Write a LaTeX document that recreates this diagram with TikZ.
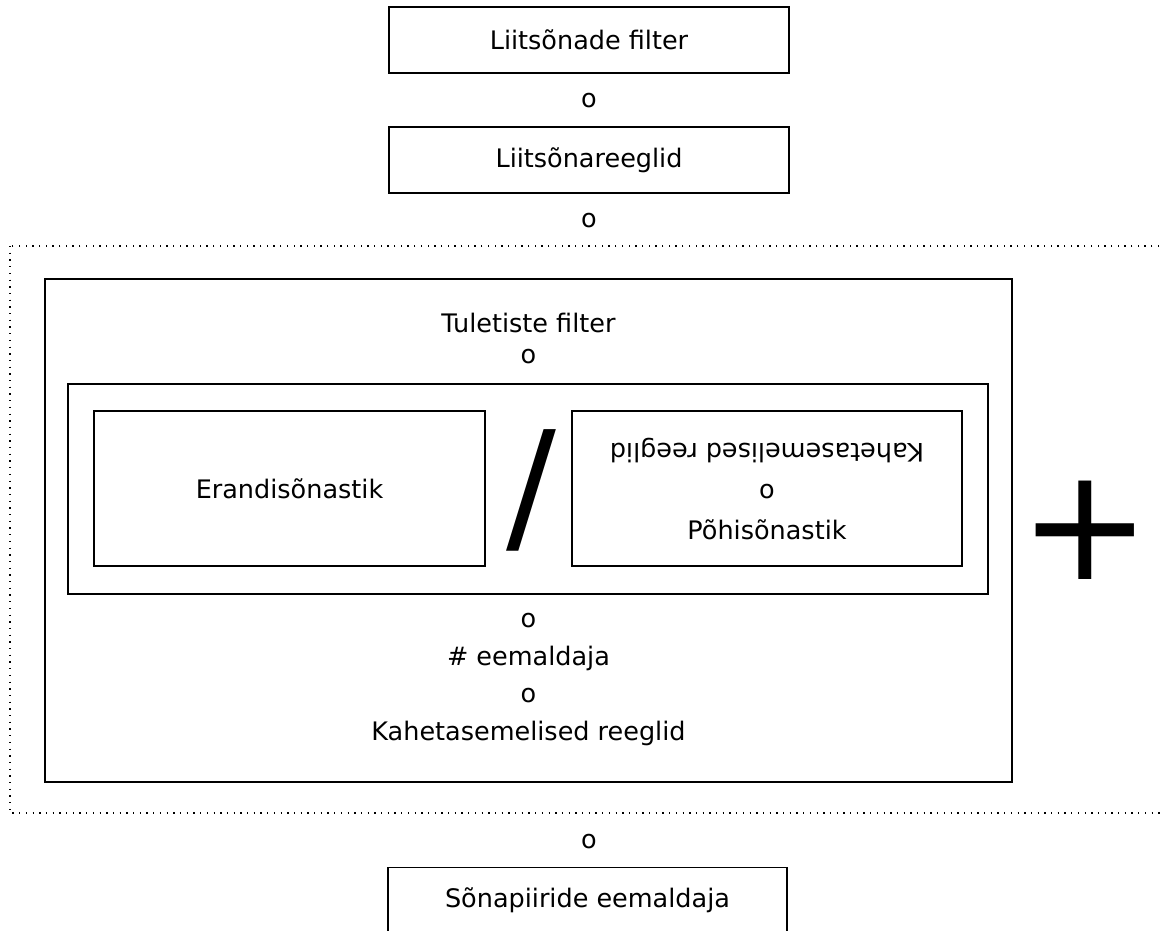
\documentclass[tikz,border=0pt]{standalone}
\usepackage{fontspec}
\setmainfont{DejaVu Sans}
\begin{document}
\begin{tikzpicture}[x=1pt,y=-1pt,line width=1.2pt,
  every node/.style={font=\fontsize{25.5}{30}\selectfont},
  box/.style={draw,inner sep=0pt},
  textline/.style={anchor=base,inner sep=0pt},
  dotframe/.style={line width=1.5pt,dash pattern=on 1.3pt off 5.4pt}]
  \useasboundingbox (0,0) rectangle (1164,930);
  \clip (0,0) rectangle (1164,930);
  % compound word part
  \node[box,minimum width=400,minimum height=66] (cfilter) at (589,40) {Liitsõnade filter};
  \node[textline] (o1) at (589,107) {o};
  \node[box,minimum width=400,minimum height=66] (crules) at (589,160) {Liitsõnareeglid};
  \node[textline] (o2) at (589,227) {o};
  % derivation part
  \draw[dotframe] (10,246) rectangle (1180,813);
  \node[box,minimum width=967,minimum height=503] (outer) at (528.5,530.5) {};
  \node[textline] (dfilter) at (528.5,332) {Tuletiste filter};
  \node[textline] (o3) at (528.5,363) {o};
  \node[box,minimum width=920,minimum height=210] (inner) at (528,489) {};
  \node[box,minimum width=391,minimum height=155] (except) at (289.5,488.5) {Erandisõnastik};
  \node[inner sep=0pt,font=\fontsize{148}{150}\selectfont] (slash) at (531,490) {/};
  \node[box,minimum width=390,minimum height=155] (basebox) at (767,488.5) {};
  \node[textline,rotate=180] (twolevelrot) at (767,443) {Kahetasemelised reeglid};
  \node[textline] (o4) at (767,498) {o};
  \node[textline] (baselex) at (767,539) {Põhisõnastik};
  \node[textline] (o5) at (528.5,627) {o};
  \node[textline] (hash) at (528.5,665) {\# eemaldaja};
  \node[textline] (o6) at (528.5,702) {o};
  \node[textline] (twolevel) at (528.5,740) {Kahetasemelised reeglid};
  \node[inner sep=0pt,font=\fontsize{157}{160}\selectfont] (plus) at (1085.5,530) {+};
  % word boundaries
  \node[textline] (o7) at (589,848) {o};
  \node[box,minimum width=399,minimum height=93,anchor=north] (remover) at (587.5,867) {};
  \node[textline] (removertext) at (587.5,907) {Sõnapiiride eemaldaja};
\end{tikzpicture}
\end{document}
